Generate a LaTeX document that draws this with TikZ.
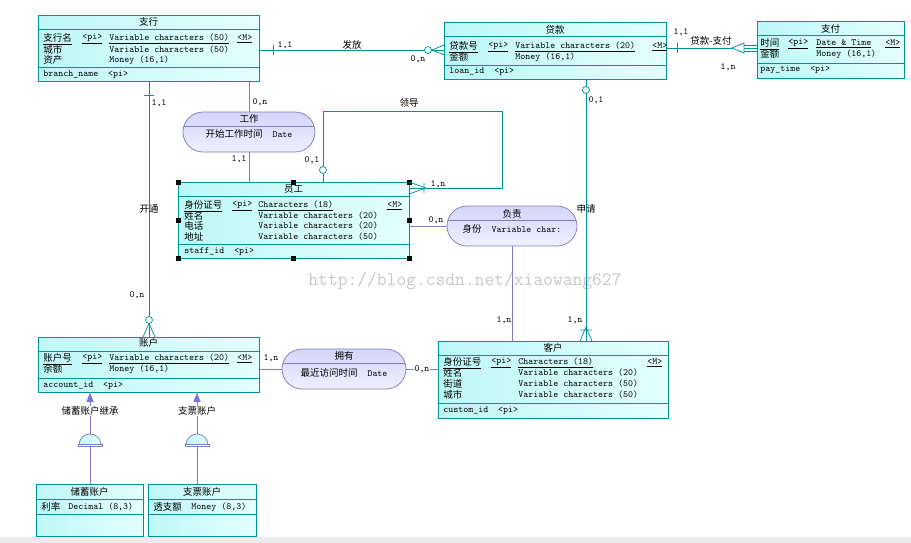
\documentclass[tikz,border=0pt]{standalone}
\usepackage{fontspec}
\newfontfamily\cjk{Noto Sans CJK SC}
\newcommand{\zh}[1]{{\cjk #1}}
\usetikzlibrary{arrows.meta}

\definecolor{entline}{RGB}{0,145,155}
\definecolor{entfillA}{RGB}{190,247,247}
\definecolor{entfillB}{RGB}{228,255,255}
\definecolor{relline}{RGB}{132,124,196}
\definecolor{relfillA}{RGB}{212,212,248}
\definecolor{relfillB}{RGB}{240,240,255}
\definecolor{inhfill}{RGB}{118,116,225}

\tikzset{every picture/.style={line width=0.75pt}}
\tikzset{
  entity/.style={draw=entline, left color=entfillA, right color=entfillB, anchor=north west, inner sep=0pt},
  relship/.style={draw=relline, top color=relfillA, bottom color=relfillB, rounded corners=20pt, inner sep=0pt, minimum height=40pt,
    path picture={\draw[relline] ([yshift=-14pt]path picture bounding box.north west) -- ([yshift=-14pt]path picture bounding box.north east);}},
  txt/.style={inner sep=0pt, font=\ttfamily\fontsize{9.5}{10}\selectfont},
  col/.style={txt, anchor=west},
  card/.style={txt},
  cardw/.style={txt, fill=white, inner sep=1pt},
  tealline/.style={draw=entline},
  purpline/.style={draw=relline},
}

\begin{document}
\begin{tikzpicture}[x=1pt,y=1pt,yscale=-1,xscale=1]
\useasboundingbox (0,0) rectangle (911,543);
\fill[black!8] (0,537) rectangle (911,543);

% watermark
\node[txt, text=black!22, font=\ttfamily\fontsize{19}{19}\selectfont] (wm) at (465,281) {http://blog.csdn.net/xiaowang627};

%Entity boxes
\node[entity, minimum width=221pt, minimum height=66.5pt] (zhihang) at (38,15) {};
\node[entity, minimum width=222pt, minimum height=57pt] (daikuan) at (444,22) {};
\node[entity, minimum width=147pt, minimum height=57pt] (zhifu) at (757,21) {};
\node[entity, minimum width=231pt, minimum height=76pt] (yuangong) at (178,182) {};
\node[entity, minimum width=230pt, minimum height=77pt] (kehu) at (438,341) {};
\node[entity, minimum width=221pt, minimum height=55pt] (zhanghu) at (38,337) {};
\node[entity, minimum width=107pt, minimum height=52pt] (chuxu) at (36,484) {};
\node[entity, minimum width=108pt, minimum height=52pt] (zhipiao) at (148,484) {};

%Entity separators
\foreach \e/\a/\b in {zhihang/14/52.5, daikuan/14/43, zhifu/14/42, yuangong/14/62, kehu/14/62, zhanghu/14/41, chuxu/15/30, zhipiao/15/30} {
  \draw[entline] ([yshift=\a pt]\e.north west) -- ([yshift=\a pt]\e.north east);
  \draw[entline] ([yshift=\b pt]\e.north west) -- ([yshift=\b pt]\e.north east);
}

%Relationships
\node[relship, minimum width=132pt] (gongzuo) at (249,132) {};
\node[relship, minimum width=130pt] (fuze) at (512,226) {};
\node[relship, minimum width=124pt] (yongyou) at (344,369) {};

% Text Node: 支行
\node[txt] (zhihang-t) at (148.5,22) {\zh{支行}};
\node[col] (zhihang-k1) at (43,39) {\underline{\zh{支行名}}};
\node[col] (zhihang-k2) at (82,39) {\underline{<pi>}};
\node[col] (zhihang-k3) at (109,39) {\underline{Variable characters (50)}};
\node[col] (zhihang-k4) at (237,39) {\underline{<M>}};
\node[col] (zhihang-a1) at (43,50) {\zh{城市}};
\node[col] (zhihang-a1t) at (109,50) {Variable characters (50)};
\node[col] (zhihang-a2) at (43,60) {\zh{资产}};
\node[col] (zhihang-a2t) at (109,60) {Money (16,1)};
\node[col] (zhihang-id) at (43,75) {branch\_name\ \ <pi>};

% Text Node: 贷款
\node[txt] (daikuan-t) at (555,30) {\zh{贷款}};
\node[col] (daikuan-k1) at (449,47) {\underline{\zh{贷款号}}};
\node[col] (daikuan-k2) at (488,47) {\underline{<pi>}};
\node[col] (daikuan-k3) at (515,47) {\underline{Variable characters (20)}};
\node[col] (daikuan-k4) at (652,47) {\underline{<M>}};
\node[col] (daikuan-a1) at (449,57) {\zh{金额}};
\node[col] (daikuan-a1t) at (515,57) {Money (16,1)};
\node[col] (daikuan-id) at (449,72) {loan\_id\ \ <pi>};

% Text Node: 支付
\node[txt] (zhifu-t) at (830.5,29) {\zh{支付}};
\node[col] (zhifu-k1) at (760,44) {\underline{\zh{时间}}};
\node[col] (zhifu-k2) at (788,44) {\underline{<pi>}};
\node[col] (zhifu-k3) at (816,44) {\underline{Date \& Time}};
\node[col] (zhifu-k4) at (885,44) {\underline{<M>}};
\node[col] (zhifu-a1) at (760,54) {\zh{金额}};
\node[col] (zhifu-a1t) at (816,54) {Money (16,1)};
\node[col] (zhifu-id) at (760,70) {pay\_time\ \ <pi>};

% Text Node: 员工
\node[txt] (yuangong-t) at (293.5,189) {\zh{员工}};
\node[col] (yuangong-k1) at (184,206) {\underline{\zh{身份证号}}};
\node[col] (yuangong-k2) at (232,206) {\underline{<pi>}};
\node[col] (yuangong-k3) at (258,206) {\underline{Characters (18)}};
\node[col] (yuangong-k4) at (387,206) {\underline{<M>}};
\node[col] (yuangong-a1) at (184,216) {\zh{姓名}};
\node[col] (yuangong-a1t) at (258,216) {Variable characters (20)};
\node[col] (yuangong-a2) at (184,226) {\zh{电话}};
\node[col] (yuangong-a2t) at (258,226) {Variable characters (20)};
\node[col] (yuangong-a3) at (184,237) {\zh{地址}};
\node[col] (yuangong-a3t) at (258,237) {Variable characters (50)};
\node[col] (yuangong-id) at (184,252) {staff\_id\ \ <pi>};

% Text Node: 客户
\node[txt] (kehu-t) at (553,348) {\zh{客户}};
\node[col] (kehu-k1) at (443,363) {\underline{\zh{身份证号}}};
\node[col] (kehu-k2) at (491,363) {\underline{<pi>}};
\node[col] (kehu-k3) at (518,363) {\underline{Characters (18)}};
\node[col] (kehu-k4) at (647,363) {\underline{<M>}};
\node[col] (kehu-a1) at (443,373) {\zh{姓名}};
\node[col] (kehu-a1t) at (518,373) {Variable characters (20)};
\node[col] (kehu-a2) at (443,384) {\zh{街道}};
\node[col] (kehu-a2t) at (518,384) {Variable characters (50)};
\node[col] (kehu-a3) at (443,395) {\zh{城市}};
\node[col] (kehu-a3t) at (518,395) {Variable characters (50)};
\node[col] (kehu-id) at (443,411) {custom\_id\ \ <pi>};

% Text Node: 账户
\node[txt] (zhanghu-t) at (148.5,343) {\zh{账户}};
\node[col] (zhanghu-k1) at (43,359) {\underline{\zh{账户号}}};
\node[col] (zhanghu-k2) at (82,359) {\underline{<pi>}};
\node[col] (zhanghu-k3) at (109,359) {\underline{Variable characters (20)}};
\node[col] (zhanghu-k4) at (237,359) {\underline{<M>}};
\node[col] (zhanghu-a1) at (43,369) {\zh{余额}};
\node[col] (zhanghu-a1t) at (109,369) {Money (16,1)};
\node[col] (zhanghu-id) at (43,386) {account\_id\ \ <pi>};

% Text Node: 储蓄账户 / 支票账户
\node[txt] (chuxu-t) at (89.5,492) {\zh{储蓄账户}};
\node[col] (chuxu-a1) at (41,507) {\zh{利率}};
\node[col] (chuxu-a1t) at (68,507) {Decimal (8,3)};
\node[txt] (zhipiao-t) at (202,492) {\zh{支票账户}};
\node[col] (zhipiao-a1) at (153,507) {\zh{透支额}};
\node[col] (zhipiao-a1t) at (191,507) {Money (8,3)};

% Text Node: relationships
\node[txt] (gongzuo-t) at (249,119) {\zh{工作}};
\node[txt] (gongzuo-a) at (249,134) {\zh{开始工作时间}\ \ Date};
\node[txt] (fuze-t) at (512,214) {\zh{负责}};
\node[txt] (fuze-a) at (512,229) {\zh{身份}\ \ Variable char:};
\node[txt] (yongyou-t) at (344,356) {\zh{拥有}};
\node[txt] (yongyou-a) at (344,373) {\zh{最近访问时间}\ \ Date};

%Selection handles
\foreach \a in {north west,north,north east,west,east,south west,south,south east}
  \fill ([shift={(-2.5,-2.5)}]yuangong.\a) rectangle ++(5,5);

%Link: 发放
\draw[tealline] (zhihang.east |- 0,50) -- (daikuan.west |- 0,50);
\draw[tealline] (273,45) -- (273,55);
\draw[tealline] (432,50) -- (444,45) (432,50) -- (444,55);
\draw[tealline, fill=white] (428,50) circle (3.5);
\node[card] (ff-c1) at (285,45) {1,1};
\node[txt] (ff-l) at (352,45) {\zh{发放}};
\node[card] (ff-c2) at (418,59) {0,n};

%Link: 贷款-支付
\draw[tealline] (daikuan.east |- 0,48) -- (zhifu.west |- 0,48);
\draw[tealline] (677,43) -- (677,53);
\draw[tealline, fill=white] (732,48) -- (744,43) -- (744,53) -- cycle;
\draw[tealline] (744,45) -- (757,45) (744,51) -- (757,51);
\node[card] (dz-c1) at (681,32) {1,1};
\node[txt] (dz-l) at (711,41) {\zh{贷款-支付}};
\node[card] (dz-c2) at (728,67) {1,n};

%Link: 申请
\draw[tealline] (daikuan.south -| 586,0) -- (kehu.north -| 586,0);
\draw[tealline, fill=white] (586,90) circle (3.5);
\draw[tealline] (586,327) -- (580,341) (586,327) -- (592,341) (580,330) -- (592,330);
\node[card] (sq-c1) at (596,100) {0,1};
\node[txt] (sq-l) at (586,209) {\zh{申请}};
\node[card] (sq-c2) at (575,320) {1,n};

%Link: 开通
\draw[tealline] (zhihang.south -| 149,0) -- (zhanghu.north -| 149,0);
\draw[tealline] (144,95) -- (154,95);
\draw[tealline] (149,323.5) -- (143,337) (149,323.5) -- (155,337);
\draw[tealline, fill=white] (149,320) circle (3.5);
\node[card] (kt-c1) at (159,103) {1,1};
\node[txt] (kt-l) at (149,209) {\zh{开通}};
\node[card] (kt-c2) at (137,295) {0,n};

%Link: 领导
\coordinate (ld1) at (323,111);
\coordinate (ld2) at (502,188);
\draw[tealline] (yuangong.north -| ld1) -- (ld1) -| (ld2) -- (yuangong.east |- ld2);
\draw[tealline, fill=white] (323,170) circle (3.5);
\draw[tealline] (426,188) -- (409,182) (426,188) -- (409,194) (424,183) -- (424,193);
\node[card] (ld-c1) at (312,160) {0,1};
\node[txt] (ld-l) at (409,103) {\zh{领导}};
\node[card] (ld-c2) at (438,184) {1,n};

%Link: 工作
\draw[purpline] (zhihang.south -| gongzuo.north) -- (gongzuo.north);
\draw[purpline] (gongzuo.south) -- (yuangong.north -| gongzuo.south);
\node[card] (gz-c1) at (260,102) {0,n};
\node[card] (gz-c2) at (239,159) {1,1};

%Link: 负责
\draw[purpline] (yuangong.east |- fuze.west) -- (fuze.west);
\draw[purpline] (fuze.south) -- (kehu.north -| fuze.south);
\node[card] (fz-c1) at (436,220) {0,n};
\node[card] (fz-c2) at (504,320) {1,n};

%Link: 拥有
\draw[purpline] (zhanghu.east |- yongyou.west) -- (yongyou.west);
\draw[purpline] (yongyou.east) -- (kehu.west |- yongyou.east);
\node[card] (yy-c1) at (271,358) {1,n};
\node[cardw] (yy-c2) at (422,369) {0,n};

%Inheritance
\node[txt] (inh1) at (90,411) {\zh{储蓄账户继承}};
\node[txt] (inh2) at (197,411) {\zh{支票账户}};
\coordinate (dome1) at (90,445);
\coordinate (dome2) at (197,445);
\foreach \i in {1,2} {
  \draw[purpline, -{Triangle[length=9pt,width=7pt,color=inhfill]}] (inh\i.north) -- (zhanghu.south -| inh\i.north);
  \draw[purpline] (inh\i.south) -- ([yshift=-11pt]dome\i);
  \draw[purpline, left color=entfillA, right color=entfillB] ([xshift=-11pt]dome\i) arc (180:360:11) -- cycle;
  \draw[purpline, fill=entfillB] ([shift={(-12pt,-1pt)}]dome\i) rectangle ([shift={(12pt,1.5pt)}]dome\i);
  \draw[purpline] ([yshift=1.5pt]dome\i) -- (chuxu.north -| dome\i);
}

\end{tikzpicture}
\end{document}
